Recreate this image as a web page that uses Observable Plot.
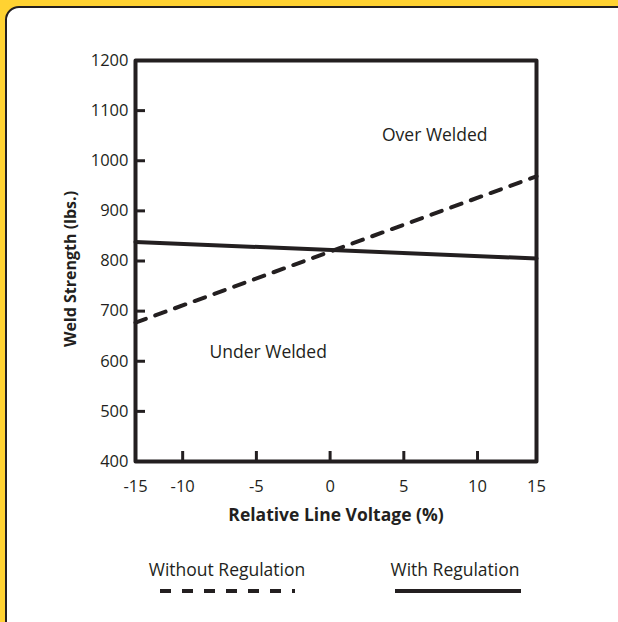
<!DOCTYPE html>
<html>
<head>
<meta charset="utf-8">
<script src="https://cdn.jsdelivr.net/npm/d3@7"></script>
<script src="https://cdn.jsdelivr.net/npm/@observablehq/plot@0.6"></script>
<style>
  html, body { margin: 0; padding: 0; }
  body { width: 618px; height: 622px; overflow: hidden; background: #FFD232; position: relative; font-family: "Open Sans", sans-serif; color: #231f20; }
  #panel { position: absolute; left: 5px; top: 6px; width: 700px; height: 700px; background: #fff; border: 2px solid #231f20; border-top-left-radius: 14px; }
  #chart { position: absolute; left: 0; top: 0; }
  .leg { position: absolute; font-size: 17.5px; line-height: 24px; text-align: center; }
</style>
</head>
<body>
<div id="panel"></div>
<div id="chart"></div>
<div id="legend"></div>
<script>
// ---- data ----
const xDomain = [-13.2, 14.0];            // frame edges (labelled -15 and 15)
const xTickPositions = [-13.2, -10, -5, 0, 5, 10, 14.0];
const xTickLabels = ["-15", "-10", "-5", "0", "5", "10", "15"];
const xTickMarks = [-10, -5, 0, 5, 10];
const yDomain = [400, 1200];
const yTicks = [400, 500, 600, 700, 800, 900, 1000, 1100, 1200];

const lineX = [-13.2, 14.0];
const withoutRegulation = [677, 969];
const withRegulation = [838, 805];

const annotations = [
  {x: 7.1, y: 1050, text: "Over Welded"},
  {x: -4.2, y: 617, text: "Under Welded"}
];
const xLabel = "Relative Line Voltage (%)";
const yLabel = "Weld Strength (lbs.)";
const legendItems = ["Without Regulation", "With Regulation"];

// ---- build ----
const ink = "#231f20";
const seriesWithout = lineX.map((x, i) => ({x, y: withoutRegulation[i]}));
const seriesWith = lineX.map((x, i) => ({x, y: withRegulation[i]}));

const chart = Plot.plot({
  width: 618,
  height: 540,
  marginLeft: 135,
  marginRight: 82,
  marginTop: 60,
  marginBottom: 79,
  style: {background: "transparent", fontFamily: "Open Sans, sans-serif", fontSize: "16px", color: ink},
  x: {domain: xDomain},
  y: {domain: yDomain},
  marks: [
    Plot.axisY({ticks: yTicks, tickSize: -10, text: null, stroke: ink, strokeWidth: 3, label: null}),
    Plot.axisY({ticks: yTicks, tickSize: 0, tickPadding: 7, fill: ink, label: null, fontSize: 16.5, tickFormat: (d) => String(d)}),
    Plot.axisX({ticks: xTickMarks, tickSize: -10, text: null, stroke: ink, strokeWidth: 3, label: null}),
    Plot.axisX({ticks: xTickPositions, tickSize: 0, tickPadding: 19, fill: ink, label: null, fontSize: 16.5,
      tickFormat: (d) => xTickLabels[xTickPositions.indexOf(d)]}),
    Plot.line(seriesWith, {x: "x", y: "y", stroke: ink, strokeWidth: 4}),
    Plot.line(seriesWithout, {x: "x", y: "y", stroke: ink, strokeWidth: 4, strokeDasharray: "11,10"}),
    Plot.frame({stroke: ink, strokeWidth: 4, strokeLinejoin: "round"}),
    Plot.text(annotations, {x: "x", y: "y", text: "text", fill: ink, fontSize: 17.5}),
    Plot.text([xLabel], {frameAnchor: "bottom", dy: 59, fill: ink, fontSize: 17.5, fontWeight: "bold"}),
    Plot.text([yLabel], {frameAnchor: "left", textAnchor: "middle", dx: -65, dy: 8, rotate: -90, fill: ink, fontSize: 16, fontWeight: "bold"})
  ]
});
document.getElementById("chart").appendChild(chart);

// ---- legend ----
const legend = document.getElementById("legend");
const legSpecs = [
  {label: legendItems[0], cx: 227, x1: 160, x2: 295, dash: "11,11"},
  {label: legendItems[1], cx: 455, x1: 395, x2: 521, dash: null}
];
legSpecs.forEach(s => {
  const t = document.createElement("div");
  t.className = "leg";
  t.textContent = s.label;
  t.style.left = (s.cx - 120) + "px";
  t.style.width = "240px";
  t.style.top = "557px";
  legend.appendChild(t);
  const svg = d3.create("svg")
    .attr("width", s.x2 - s.x1).attr("height", 8)
    .style("position", "absolute").style("left", s.x1 + "px").style("top", "587px");
  svg.append("line").attr("x1", 0).attr("x2", s.x2 - s.x1).attr("y1", 4).attr("y2", 4)
    .attr("stroke", ink).attr("stroke-width", 4).attr("stroke-dasharray", s.dash);
  legend.appendChild(svg.node());
});
</script>
</body>
</html>
